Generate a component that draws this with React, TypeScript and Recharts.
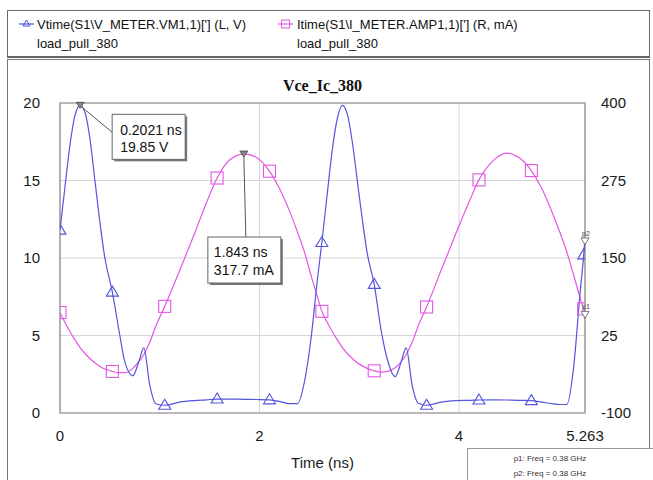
import React from 'react';
import { LineChart, Line, XAxis, YAxis, CartesianGrid, ReferenceDot, ReferenceArea } from 'recharts';

const times = [
  0, 0.05, 0.1, 0.15, 0.2, 0.25, 0.3, 0.35, 0.4, 0.45, 0.525, 0.6, 0.65, 0.73, 0.79, 0.84, 0.9, 0.96,
  1.05, 1.2, 1.35, 1.47, 1.575, 1.7, 1.85, 1.97, 2.1, 2.2, 2.3, 2.38, 2.45, 2.52, 2.58, 2.625,
  2.68, 2.73, 2.78, 2.83, 2.88, 2.93, 2.98, 3.03, 3.08, 3.15, 3.22, 3.28, 3.36, 3.42, 3.47, 3.53, 3.59,
  3.675, 3.82, 3.97, 4.1, 4.2, 4.33, 4.48, 4.6, 4.725, 4.83, 4.93, 5.01, 5.08, 5.15, 5.21, 5.25, 5.263,
];
const vtime = [
  11.8, 14.6, 17.3, 19.2, 19.85, 19.4, 17.7, 15.0, 12.3, 10.0, 7.8, 5.0, 3.3, 2.4, 3.3, 4.2, 1.8, 0.6,
  0.5, 0.7, 0.8, 0.85, 0.9, 0.9, 0.88, 0.87, 0.85, 0.75, 0.6, 0.6, 2.0, 5.0, 8.6, 11.0,
  14.2, 17.0, 19.0, 19.85, 19.3, 17.5, 15.0, 12.5, 10.3, 8.3, 5.3, 3.5, 2.35, 3.3, 4.2, 1.8, 0.65,
  0.5, 0.7, 0.8, 0.82, 0.84, 0.85, 0.84, 0.82, 0.8, 0.7, 0.6, 0.55, 0.55, 3.0, 7.5, 10.2, 11.3,
];
const itime = [
  62, 46, 31, 18, 6, -4, -12, -19, -25, -29, -33, -35, -35, -28, -17, -6, 14, 40,
  72, 130, 190, 240, 279, 308, 318, 312, 290, 262, 226, 192, 160, 120, 88, 64,
  46, 31, 18, 6, -4, -12, -19, -24, -28, -32, -34, -33, -27, -17, -6, 14, 40,
  71, 130, 190, 240, 276, 305, 319, 312, 291, 262, 225, 192, 160, 122, 88, 68, 64,
];
const markerTimes = [0, 0.525, 1.05, 1.575, 2.1, 2.625, 3.15, 3.675, 4.2, 4.725, 5.25];
const xTicks = [0, 2, 4, 5.263];
const leftTicks = [0, 5, 10, 15, 20];
const rightTicks = [-100, 25, 150, 275, 400];
const vPeak = { t: 0.2021, v: 19.85, label1: '0.2021 ns', label2: '19.85 V' };
const iPeak = { t: 1.843, v: 317.7, label1: '1.843 ns', label2: '317.7 mA' };
const endT = 5.263;

const data = times.map((t, k) => ({ t, v: vtime[k], ma: itime[k], mk: markerTimes.includes(t) }));

const BLUE = '#5454dc';
const MAG = '#e456e4';
const SANS = '"Liberation Sans", Arial, sans-serif';

const triDot = (p: any) => {
  const { cx, cy, payload, index } = p;
  if (!payload || !payload.mk || cx == null) return <g key={`vt${index}`} />;
  return (
    <path key={`vt${index}`} d={`M${cx},${cy - 6} L${cx + 6},${cy + 4} L${cx - 6},${cy + 4} Z`} fill="none" stroke={BLUE} strokeWidth={1.1} />
  );
};
const sqDot = (p: any) => {
  const { cx, cy, payload, index } = p;
  if (!payload || !payload.mk || cx == null) return <g key={`sq${index}`} />;
  return <rect key={`sq${index}`} x={cx - 6} y={cy - 6} width={12} height={12} fill="none" stroke={MAG} strokeWidth={1.1} />;
};

const peakMarker = (cx: number, cy: number) => (
  <path d={`M${cx - 4},${cy - 3} L${cx + 4},${cy - 3} L${cx},${cy + 3} Z`} fill="#888" stroke="#444" strokeWidth={0.8} />
);

const vAnno = (p: any) => {
  const { cx, cy } = p;
  const bx = cx + 32, by = cy + 9;
  return (
    <g>
      {peakMarker(cx, cy)}
      <line x1={cx + 2} y1={cy + 2} x2={bx} y2={by + 18} stroke="#555" strokeWidth={1} />
      <rect x={bx + 2} y={by + 2} width={73} height={45} fill="#777" />
      <rect x={bx} y={by} width={73} height={45} fill="#fff" stroke="#666" strokeWidth={1} />
      <text x={bx + 8} y={by + 21} fontSize={14} fontFamily={SANS} fill="#111">{vPeak.label1}</text>
      <text x={bx + 8} y={by + 38} fontSize={14} fontFamily={SANS} fill="#111">{vPeak.label2}</text>
    </g>
  );
};
const iAnno = (p: any) => {
  const { cx, cy } = p;
  const bx = cx - 36, by = cy + 83;
  return (
    <g>
      {peakMarker(cx, cy)}
      <line x1={cx} y1={cy + 3} x2={cx + 2} y2={by} stroke="#555" strokeWidth={1} />
      <rect x={bx + 2} y={by + 2} width={73} height={46} fill="#777" />
      <rect x={bx} y={by} width={73} height={46} fill="#fff" stroke="#666" strokeWidth={1} />
      <text x={bx + 6} y={by + 20} fontSize={14} fontFamily={SANS} fill="#111">{iPeak.label1}</text>
      <text x={bx + 6} y={by + 38} fontSize={14} fontFamily={SANS} fill="#111">{iPeak.label2}</text>
    </g>
  );
};
const endMark = (label: string) => (p: any) => {
  const { cx, cy } = p;
  return (
    <g>
      <path d={`M${cx - 4},${cy} L${cx + 4},${cy} L${cx},${cy + 7} Z`} fill="#fff" stroke="#555" strokeWidth={0.8} />
      <text x={cx - 3} y={cy - 2} fontSize={7} fontFamily={SANS} fill="#444">{label}</text>
    </g>
  );
};

export default function App() {
  return (
    <div style={{ position: 'absolute', left: 0, top: 0, width: 653, height: 480, background: '#fff', overflow: 'hidden', fontFamily: SANS }}>
      {/* legend box */}
      <div style={{ position: 'absolute', left: 7, top: 10, width: 641, height: 45, border: '1px solid #666', borderBottomWidth: 2 }} />
      <svg style={{ position: 'absolute', left: 18, top: 17 }} width={17} height={14}>
        <line x1={1} y1={7} x2={16} y2={7} stroke={BLUE} strokeWidth={1.2} />
        <path d="M8.5,3 L12,9 L5,9 Z" fill="none" stroke={BLUE} />
      </svg>
      <div style={{ position: 'absolute', left: 37, top: 15, fontSize: 13, lineHeight: '19px', color: '#111', whiteSpace: 'pre' }}>
        {'Vtime(S1\\V_METER.VM1,1)[\'] (L, V)\nload_pull_380'}
      </div>
      <svg style={{ position: 'absolute', left: 277, top: 17 }} width={17} height={14}>
        <line x1={1} y1={7} x2={16} y2={7} stroke={MAG} strokeWidth={1.2} />
        <rect x={4.5} y={3} width={8} height={8} fill="none" stroke={MAG} />
      </svg>
      <div style={{ position: 'absolute', left: 297, top: 15, fontSize: 13, lineHeight: '19px', color: '#111', whiteSpace: 'pre' }}>
        {'Itime(S1\\I_METER.AMP1,1)[\'] (R, mA)\nload_pull_380'}
      </div>
      {/* plot frame */}
      <div style={{ position: 'absolute', left: 7, top: 59, width: 641, height: 440, border: '1px solid #777' }} />
      <div style={{ position: 'absolute', left: 60, top: 77, width: 525, textAlign: 'center', fontFamily: '"Liberation Serif", "Times New Roman", serif', fontWeight: 'bold', fontSize: 16, color: '#111' }}>
        Vce_Ic_380
      </div>
      <div style={{ position: 'absolute', left: 0, top: 0 }}>
        <LineChart width={653} height={480} data={data} margin={{ top: 103, right: 0, bottom: 0, left: 0 }}>
          <CartesianGrid yAxisId="left" stroke="#d6d6d6" />
          <XAxis dataKey="t" type="number" domain={[0, endT]} ticks={xTicks} height={67} tickLine={false} axisLine={false} tickSize={0} tickMargin={17} tick={{ fill: '#1a1a1a', fontSize: 15, fontFamily: SANS }} label={{ value: 'Time (ns)', position: 'insideBottom', offset: 12, fill: '#1a1a1a', fontSize: 15, fontFamily: SANS }} allowDataOverflow />
          <YAxis yAxisId="left" width={60} domain={[0, 20]} ticks={leftTicks} tickLine={false} axisLine={false} tickSize={0} tickMargin={20} tick={{ fill: '#1a1a1a', fontSize: 15, fontFamily: SANS }} />
          <YAxis yAxisId="right" orientation="right" width={68} domain={[-100, 400]} ticks={rightTicks} tickLine={false} axisLine={false} tickSize={0} tickMargin={16} tick={{ fill: '#1a1a1a', fontSize: 15, fontFamily: SANS }} />
          <ReferenceArea yAxisId="left" x1={0} x2={endT} y1={0} y2={20} fill="none" stroke="#8a8a8a" strokeWidth={1.2} />
          <Line yAxisId="right" dataKey="ma" type="monotone" stroke={MAG} strokeWidth={1.2} dot={sqDot} isAnimationActive={false} />
          <Line yAxisId="left" dataKey="v" type="monotone" stroke={BLUE} strokeWidth={1.2} dot={triDot} isAnimationActive={false} />
          <ReferenceDot yAxisId="left" x={vPeak.t} y={vPeak.v} shape={vAnno} ifOverflow="visible" />
          <ReferenceDot yAxisId="right" x={iPeak.t} y={iPeak.v} shape={iAnno} ifOverflow="visible" />
          <ReferenceDot yAxisId="left" x={endT} y={vtime[vtime.length - 1]} shape={endMark('p2')} ifOverflow="visible" />
          <ReferenceDot yAxisId="right" x={endT} y={itime[itime.length - 1]} shape={endMark('p1')} ifOverflow="visible" />
        </LineChart>
      </div>
      {/* marker info box */}
      <div style={{ position: 'absolute', left: 467, top: 448, width: 190, height: 40, border: '1px solid #999', background: '#fff', fontSize: 8, color: '#333', textAlign: 'center', lineHeight: '15px', paddingTop: 2 }}>
        <div style={{ marginLeft: -26 }}>p1: Freq = 0.38 GHz</div>
        <div style={{ marginLeft: -26 }}>p2: Freq = 0.38 GHz</div>
      </div>
    </div>
  );
}
